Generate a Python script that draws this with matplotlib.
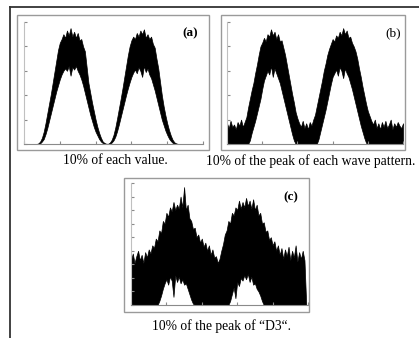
import numpy as np
import matplotlib.pyplot as plt
from matplotlib.patches import Rectangle
from matplotlib.lines import Line2D

# sample index (0..100) shared by all three panels
x = np.arange(101)

# (a) noise = 10% of each value: upper / lower envelope of the signal
a_upper = [0, 0, 0, 0, 0, 0, 0, 0, 0.005, 0.02,
           0.05, 0.10, 0.17, 0.25, 0.33, 0.41, 0.50, 0.59, 0.68, 0.77,
           0.83, 0.86, 0.90, 0.87, 0.93, 0.89, 0.95, 0.88, 0.92, 0.87,
           0.91, 0.85, 0.86, 0.80, 0.76, 0.63, 0.50, 0.42, 0.34, 0.27,
           0.20, 0.14, 0.09, 0.05, 0.02, 0.008, 0.002, 0.002, 0.012, 0.035,
           0.075, 0.135, 0.21, 0.29, 0.37, 0.455, 0.545, 0.635, 0.725, 0.80,
           0.85, 0.88, 0.86, 0.91, 0.88, 0.93, 0.90, 0.94, 0.87, 0.90,
           0.86, 0.88, 0.82, 0.79, 0.70, 0.62, 0.51, 0.40, 0.31, 0.235,
           0.17, 0.115, 0.07, 0.035, 0.014, 0.005, 0.001, 0, 0, 0,
           0, 0, 0, 0, 0, 0, 0, 0, 0, 0, 0]
a_lower = [0, 0, 0, 0, 0, 0, 0, 0, 0, 0.005,
           0.02, 0.04, 0.08, 0.13, 0.19, 0.25, 0.31, 0.37, 0.43, 0.48,
           0.53, 0.57, 0.60, 0.62, 0.60, 0.64, 0.56, 0.63, 0.61, 0.64,
           0.60, 0.57, 0.53, 0.48, 0.42, 0.36, 0.30, 0.24, 0.19, 0.14,
           0.10, 0.07, 0.04, 0.02, 0.008, 0.002, 0, 0, 0.002, 0.012,
           0.03, 0.06, 0.105, 0.16, 0.22, 0.28, 0.34, 0.40, 0.455, 0.505,
           0.55, 0.585, 0.61, 0.58, 0.63, 0.60, 0.55, 0.64, 0.59, 0.62,
           0.57, 0.54, 0.49, 0.44, 0.38, 0.32, 0.26, 0.20, 0.155, 0.11,
           0.075, 0.045, 0.025, 0.01, 0.003, 0, 0, 0, 0, 0,
           0, 0, 0, 0, 0, 0, 0, 0, 0, 0, 0]

# (b) noise = 10% of the peak of each wave pattern
b_upper = [0.17, 0.13, 0.19, 0.14, 0.16, 0.12, 0.18, 0.15, 0.20, 0.14,
           0.18, 0.22, 0.30, 0.37, 0.44, 0.50, 0.58, 0.65, 0.73, 0.80,
           0.83, 0.87, 0.84, 0.90, 0.88, 0.94, 0.89, 0.92, 0.86, 0.90,
           0.84, 0.85, 0.79, 0.73, 0.65, 0.57, 0.49, 0.41, 0.34, 0.26,
           0.21, 0.17, 0.14, 0.19, 0.13, 0.17, 0.12, 0.18, 0.15, 0.20,
           0.24, 0.31, 0.38, 0.45, 0.52, 0.60, 0.66, 0.73, 0.78, 0.82,
           0.86, 0.84, 0.89, 0.87, 0.92, 0.89, 0.95, 0.90, 0.93, 0.87,
           0.88, 0.83, 0.80, 0.76, 0.70, 0.62, 0.55, 0.47, 0.40, 0.33,
           0.27, 0.23, 0.19, 0.16, 0.20, 0.13, 0.17, 0.12, 0.18, 0.14,
           0.19, 0.13, 0.16, 0.20, 0.12, 0.17, 0.14, 0.18, 0.15, 0.13, 0.17]
b_lower = [0, 0, 0, 0, 0, 0, 0, 0, 0, 0,
           0, 0, 0, 0.03, 0.09, 0.14, 0.19, 0.25, 0.31, 0.37,
           0.45, 0.52, 0.56, 0.60, 0.57, 0.64, 0.55, 0.62, 0.58, 0.54,
           0.50, 0.44, 0.38, 0.32, 0.26, 0.20, 0.14, 0.08, 0.03, 0,
           0, 0, 0, 0, 0, 0, 0, 0, 0, 0,
           0, 0, 0.04, 0.10, 0.16, 0.22, 0.28, 0.35, 0.42, 0.49,
           0.55, 0.58, 0.61, 0.56, 0.63, 0.60, 0.54, 0.62, 0.58, 0.55,
           0.50, 0.45, 0.39, 0.33, 0.27, 0.21, 0.15, 0.10, 0.05, 0.01,
           0, 0, 0, 0, 0, 0, 0, 0, 0, 0,
           0, 0, 0, 0, 0, 0, 0, 0, 0, 0, 0]

# (c) noise = 10% of the peak of "D3"
c_upper = [0.33, 0.38, 0.31, 0.36, 0.40, 0.33, 0.37, 0.31, 0.39, 0.35,
           0.41, 0.38, 0.44, 0.42, 0.49, 0.47, 0.55, 0.53, 0.62, 0.60,
           0.68, 0.65, 0.72, 0.69, 0.76, 0.70, 0.74, 0.71, 0.80, 0.72,
           0.87, 0.70, 0.74, 0.64, 0.62, 0.56, 0.57, 0.50, 0.52, 0.46,
           0.49, 0.43, 0.46, 0.40, 0.44, 0.37, 0.41, 0.35, 0.36, 0.31,
           0.34, 0.40, 0.45, 0.52, 0.55, 0.62, 0.60, 0.68, 0.66, 0.72,
           0.70, 0.77, 0.71, 0.76, 0.72, 0.79, 0.73, 0.77, 0.71, 0.78,
           0.70, 0.74, 0.66, 0.68, 0.60, 0.61, 0.54, 0.55, 0.48, 0.50,
           0.44, 0.47, 0.40, 0.44, 0.37, 0.42, 0.34, 0.41, 0.36, 0.43,
           0.33, 0.40, 0.35, 0.44, 0.32, 0.39, 0.34, 0.40, 0.33, 0, 0]
c_lower = [0, 0, 0, 0, 0, 0, 0, 0, 0, 0,
           0, 0, 0, 0, 0, 0, 0.03, 0.07, 0.12, 0.16,
           0.19, 0.15, 0.21, 0.18, 0.06, 0.22, 0.17, 0.21, 0.16, 0.19,
           0.15, 0.16, 0.12, 0.08, 0.04, 0.01, 0, 0, 0, 0,
           0, 0, 0, 0, 0, 0, 0, 0, 0, 0,
           0, 0, 0, 0, 0, 0, 0.03, 0.08, 0.13, 0.05,
           0.17, 0.14, 0.20, 0.18, 0.22, 0.19, 0.23, 0.17, 0.21, 0.15,
           0.16, 0.12, 0.10, 0.07, 0.03, 0, 0, 0, 0, 0,
           0, 0, 0, 0, 0, 0, 0, 0, 0, 0,
           0, 0, 0, 0, 0, 0, 0, 0, 0, 0, 0]

captions = ['10% of each value.',
            '10% of the peak of each wave pattern.',
            '10% of the peak of \u201cD3\u201c.']

W, H = 419, 338
fig = plt.figure(figsize=(W/100, H/100), dpi=100)

def fx(px): return px / W
def fy(py): return 1 - py / H

# outer frame (top and left only)
fig.add_artist(Line2D([fx(10), 1], [fy(7), fy(7)], color='#333333', lw=1.3))
fig.add_artist(Line2D([fx(10), fx(10)], [0, fy(7)], color='#333333', lw=1.3))

# gray boxes round each panel
for l, t, r, b in [(17, 15, 209, 150), (221, 15, 405, 150), (124, 178, 309, 312)]:
    fig.add_artist(Rectangle((fx(l), fy(b)), fx(r - l), (b - t) / H,
                             transform=fig.transFigure, fill=False,
                             ec='#9a9a9a', lw=1.0))

def panel(l, t, r, b, up, lo, ymax, nyt):
    ax = fig.add_axes([fx(l), fy(b), fx(r - l), (b - t) / H])
    ax.fill_between(x, lo, up, color='black', ec='black', lw=0.5, clip_on=False)
    ax.set_xlim(0, 100)
    ax.set_ylim(0, ymax)
    ax.set_xticks(np.linspace(0, 100, 6))
    ax.set_yticks(np.linspace(0, ymax, nyt + 1))
    ax.tick_params(direction='in', length=2.5, width=0.8, color='#8a8a8a',
                   labelleft=False, labelbottom=False)
    for s in ['top', 'right']:
        ax.spines[s].set_visible(False)
    ax.spines['left'].set_color('#c0c0c0')
    ax.spines['bottom'].set_color('#8a8a8a')
    ax.set_facecolor('none')
    return ax

panel(24, 22, 203, 144, a_upper, a_lower, 1.0, 5)
panel(227, 22, 403, 144, b_upper, b_lower, 1.0, 5)
panel(131, 183, 308, 305, c_upper, c_lower, 0.9, 9)

serif = 'Liberation Serif'
fig.text(fx(190.5), fy(33), '(a)', family=serif, weight='bold', fontsize=9.5,
         ha='center', va='center')
fig.text(fx(393.5), fy(33), '(b)', family=serif, fontsize=9.5,
         ha='center', va='center')
fig.text(fx(290.5), fy(197), '(c)', family=serif, weight='bold', fontsize=9.5,
         ha='center', va='center')

fig.text(fx(115), fy(161), captions[0], family=serif, fontsize=9.8, ha='center', va='center')
fig.text(fx(311), fy(161), captions[1], family=serif, fontsize=9.8, ha='center', va='center')
fig.text(fx(221), fy(326), captions[2], family=serif, fontsize=9.8, ha='center', va='center')

fig.savefig('out.png', dpi=100)
